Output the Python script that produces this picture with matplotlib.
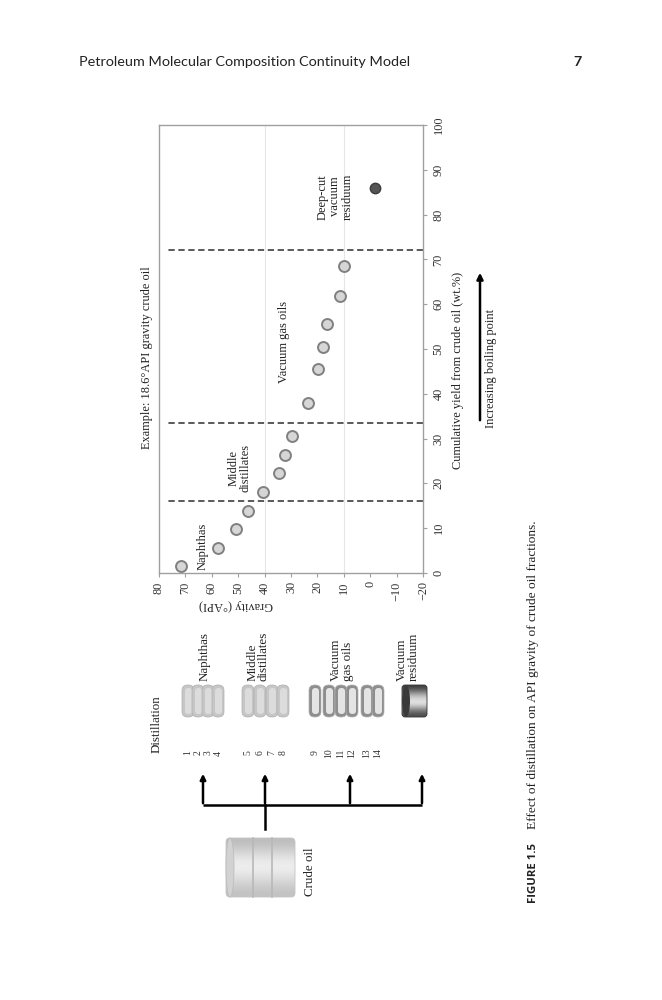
import numpy as np
import matplotlib
matplotlib.use("Agg")
import matplotlib.pyplot as plt
from matplotlib.patches import Ellipse, FancyBboxPatch

cum_yield = [1.6, 5.6, 9.8, 13.8, 18.0, 22.3, 26.4, 30.6, 37.9, 45.6, 50.4, 55.5, 61.8, 68.5]
api_gravity = [71.7, 57.5, 51.0, 46.4, 40.7, 34.4, 32.3, 29.7, 23.4, 19.6, 17.7, 16.5, 11.4, 9.9]
resid_yield = [86.0]
resid_api = [-1.8]
cut_points = [16.0, 33.5, 72.0]
grid_api = [40, 10]
gravity_ticks = list(range(-20, 81, 10))
yield_ticks = list(range(0, 101, 10))

region_labels = ["Naphthas", "Middle\ndistillates", "Vacuum gas oils", "Deep-cut\nvacuum\nresiduum"]
region_api = [63.5, 49.5, 32.5, 13.3]
region_yield = [6.0, 23.4, 51.5, 84.0]

fraction_nums = [str(i) for i in range(1, 15)]

W, H = 662, 1000
SERIF = "Liberation Serif"

fig = plt.figure(figsize=(W / 100, H / 100), dpi=100)

# page layer in pixel coords
page = fig.add_axes([0, 0, 1, 1])
page.set_xlim(0, W)
page.set_ylim(H, 0)
page.axis("off")

# header
page.text(79, 62, "Petroleum Molecular Composition Continuity Model", fontsize=10.4,
          family="Lato", color="#222222", va="center", ha="left")
page.text(578, 62, "7", fontsize=10.4, family="Lato", weight="bold", color="#222222",
          va="center", ha="center")

# caption
page.text(533, 903, "FIGURE 1.5", rotation=90, fontsize=8.2, family="Open Sans",
          weight="bold", color="#222222", ha="center", va="bottom")
page.text(533, 829, "Effect of distillation on API gravity of crude oil fractions.", rotation=90,
          fontsize=9.6, family=SERIF, color="#222222", ha="center", va="bottom")

# ---- chart ----
ax = fig.add_axes([159 / W, 1 - 573 / H, 264 / W, 448 / H])
ax.vlines(grid_api, 0, 100, colors="#e6e6e6", lw=0.8, zorder=0)
ax.hlines(cut_points, -20, 77, colors="#4d4d4d", linestyles=(0, (3.5, 2)), lw=1.3, zorder=2)
ax.scatter(api_gravity, cum_yield, s=62, c="#d6d6d6", edgecolors="#808080", linewidths=1.4, zorder=3)
ax.scatter(resid_api, resid_yield, s=56, c="#555555", edgecolors="#3c3c3c", linewidths=1.0, zorder=3)
ax.set_xlim(80, -20)
ax.set_ylim(0, 100)
for s in ax.spines.values():
    s.set_color("#a0a0a0")
    s.set_linewidth(1.0)
ax.yaxis.tick_right()
ax.set_xticks(gravity_ticks)
ax.set_xticklabels([str(t).replace("-", "\u2212") for t in gravity_ticks], rotation=90,
                   family=SERIF, fontsize=8.8, color="#333333")
ax.set_yticks(yield_ticks)
ax.set_yticklabels([str(t) for t in yield_ticks], rotation=90, va="center",
                   family=SERIF, fontsize=8.8, color="#333333")
ax.tick_params(axis="both", length=3, color="#a0a0a0", width=0.8)
ax.tick_params(axis="x", pad=3)
ax.tick_params(axis="y", pad=4)

for lab, ga, yy in zip(region_labels, region_api, region_yield):
    ax.text(ga, yy, lab, rotation=90, ha="center", va="center", family=SERIF,
            fontsize=9, color="#222222", linespacing=1.05)

page.text(147, 358, "Example: 18.6\u00b0API gravity crude oil", rotation=90, ha="center",
          va="center", family=SERIF, fontsize=8.9, color="#222222")
page.text(458, 370, "Cumulative yield from crude oil (wt.%)", rotation=90, ha="center",
          va="center", family=SERIF, fontsize=8.9, color="#222222")
page.text(236, 605, "Gravity (\u00b0API)", rotation=180, ha="center", va="center",
          family=SERIF, fontsize=8.9, color="#222222")
page.text(491, 368, "Increasing boiling point", rotation=90, ha="center", va="center",
          family=SERIF, fontsize=8.9, color="#222222")
page.annotate("", xy=(480, 270), xytext=(480, 423),
              arrowprops=dict(arrowstyle="-|>", lw=1.8, color="black", mutation_scale=9))

# ---- distillation diagram ----
page.text(157, 724, "Distillation", rotation=90, ha="center", va="center", family=SERIF,
          fontsize=9.4, color="#222222")

disc_x = [188, 198, 208, 218, 248, 260, 272, 283, 315, 329, 341, 352, 367, 378]
disc_edge = ["#c6c6c6"] * 8 + ["#8e8e8e"] * 6
disc_face = ["#dcdcdc"] * 8 + ["#e4e4e4"] * 6
for cx, ec, fc in zip(disc_x, disc_edge, disc_face):
    page.add_patch(FancyBboxPatch((cx - 6, 685), 12, 32, boxstyle="round,pad=0,rounding_size=5.5",
                                  fc=ec, ec="#b0b0b0", lw=0.5))
    page.add_patch(FancyBboxPatch((cx - 3, 688), 7, 26, boxstyle="round,pad=0,rounding_size=3.4",
                                  fc=fc, ec="none"))
for cx, num in zip(disc_x, fraction_nums):
    page.text(cx, 753, num, rotation=90, ha="center", va="center", family=SERIF,
              fontsize=7, color="#333333")

# residuum cylinder with gradient
res_box = FancyBboxPatch((402, 685), 25, 32, boxstyle="round,pad=0,rounding_size=3",
                         fc="none", ec="#333333", lw=0.6)
page.add_patch(res_box)
grad = np.array([0.25, 0.45, 0.7, 0.85, 0.9, 0.7, 0.45, 0.3]).reshape(-1, 1)
im = page.imshow(grad, cmap="gray", vmin=0, vmax=1, extent=(402, 427, 717, 685),
                 aspect="auto", interpolation="bicubic")
im.set_clip_path(res_box)
page.add_patch(Ellipse((406, 701), 8, 32, fc="#3a3a3a", ec="none"))
page.set_xlim(0, W)
page.set_ylim(H, 0)

labels_side = [(205, "Naphthas"), (258, "Middle\ndistillates"), (342, "Vacuum\ngas oils"),
               (408, "Vacuum\nresiduum")]
for lx, txt in labels_side:
    page.text(lx, 681, txt, rotation=90, ha="center", va="bottom", family=SERIF,
              fontsize=9.4, color="#222222", linespacing=0.95, multialignment="left")

# flow arrows
arrow_x = [203, 265, 350, 422]
page.plot([arrow_x[0], arrow_x[-1]], [805, 805], color="black", lw=1.8, solid_capstyle="butt")
page.plot([265, 265], [805, 829], color="black", lw=1.8)
for xa in arrow_x:
    page.annotate("", xy=(xa, 771), xytext=(xa, 806),
                  arrowprops=dict(arrowstyle="-|>", lw=1.8, color="black", mutation_scale=8))

# crude oil barrel
barrel = FancyBboxPatch((226, 838), 69, 59, boxstyle="round,pad=0,rounding_size=4",
                        fc="none", ec="#c4c4c4", lw=0.6)
page.add_patch(barrel)
bgrad = np.array([0.74, 0.8, 0.88, 0.93, 0.92, 0.86, 0.8, 0.76]).reshape(-1, 1)
bim = page.imshow(bgrad, cmap="gray", vmin=0, vmax=1, extent=(226, 295, 897, 838),
                  aspect="auto", interpolation="bicubic")
bim.set_clip_path(barrel)
page.add_patch(Ellipse((230, 867.5), 8, 59, fc="#d2d2d2", ec="#bdbdbd", lw=0.6))
for bx in [253, 272]:
    page.plot([bx, bx], [838, 897], color="#b8b8b8", lw=1.2)
page.set_xlim(0, W)
page.set_ylim(H, 0)
page.text(310, 872, "Crude oil", rotation=90, ha="center", va="center", family=SERIF,
          fontsize=9.4, color="#222222")

fig.savefig("out.png", dpi=100, facecolor="white")
